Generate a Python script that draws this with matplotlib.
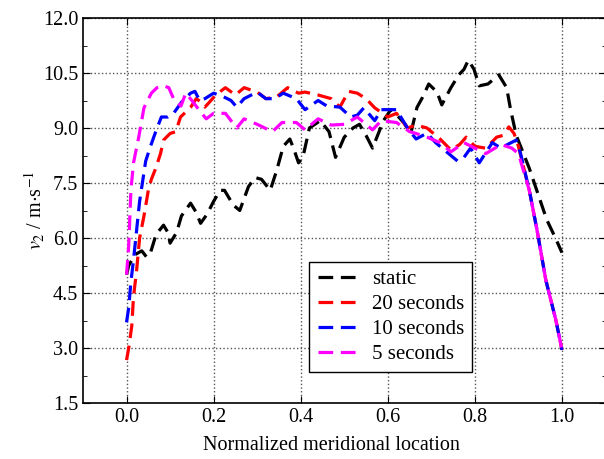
import matplotlib.pyplot as plt
import numpy as np
from matplotlib.ticker import MultipleLocator

plt.rcParams['font.family'] = 'Liberation Serif'
plt.rcParams['mathtext.fontset'] = 'stix'

# static
static_x = [0.0, 0.005, 0.02, 0.035, 0.046, 0.055, 0.068, 0.085, 0.095, 0.10, 0.115,
            0.126, 0.147, 0.16, 0.17, 0.185, 0.2, 0.215, 0.225, 0.245, 0.26, 0.28,
            0.295, 0.31, 0.33, 0.345, 0.36, 0.375, 0.385, 0.395, 0.405, 0.42, 0.445,
            0.465, 0.48, 0.50, 0.52, 0.535, 0.55, 0.565, 0.59, 0.607, 0.625, 0.64,
            0.653, 0.667, 0.68, 0.694, 0.713, 0.724, 0.745, 0.763, 0.775, 0.785,
            0.798, 0.81, 0.83, 0.855, 0.873, 0.882, 0.895, 0.905, 0.925, 0.945,
            0.965, 0.985, 1.0]
static_v = [5.0, 5.25, 5.55, 5.65, 5.48, 5.6, 6.1, 6.35, 6.15, 5.86, 6.15,
            6.6, 6.95, 6.7, 6.4, 6.65, 7.0, 7.3, 7.3, 6.9, 6.75, 7.4,
            7.65, 7.6, 7.3, 7.85, 8.5, 8.7, 8.4, 8.05, 8.2, 9.0, 9.2,
            8.9, 8.2, 8.75, 9.0, 9.1, 8.8, 8.45, 9.2, 9.5, 9.3, 9.1,
            8.86, 9.56, 9.84, 10.2, 9.98, 9.63, 10.1, 10.45, 10.6, 10.85,
            10.6, 10.15, 10.2, 10.45, 10.1, 9.5, 8.8, 8.5, 7.9, 7.2,
            6.5, 6.0, 5.6]

# 20 seconds
s20_x = [0.0, 0.005, 0.012, 0.016, 0.023, 0.03, 0.04, 0.05, 0.057, 0.067, 0.078,
         0.085, 0.1, 0.113, 0.124, 0.147, 0.16, 0.172, 0.18, 0.19, 0.205, 0.227,
         0.25, 0.27, 0.3, 0.32, 0.345, 0.37, 0.395, 0.41, 0.44, 0.47, 0.49, 0.51,
         0.53, 0.55, 0.57, 0.6, 0.62, 0.645, 0.665, 0.69, 0.72, 0.745, 0.765,
         0.78, 0.80, 0.825, 0.85, 0.865, 0.878, 0.89, 0.9, 0.925, 0.943, 0.963,
         0.986, 1.0]
s20_v = [2.67, 3.0, 3.6, 4.4, 5.1, 6.0, 6.6, 7.3, 7.6, 7.9, 8.3,
         8.67, 8.85, 8.9, 9.3, 9.56, 9.8, 9.7, 9.57, 9.7, 9.9, 10.1,
         9.9, 10.1, 9.98, 9.8, 9.85, 10.1, 9.95, 9.98, 9.9, 9.8, 9.57, 10.0,
         9.95, 9.8, 9.55, 9.3, 9.4, 9.0, 9.08, 9.0, 8.7, 8.4, 8.55,
         8.75, 8.5, 8.45, 8.75, 8.8, 9.03, 8.85, 8.5, 7.3, 6.2, 4.85,
         3.76, 2.95]

# 10 seconds
s10_x = [0.0, 0.005, 0.01, 0.016, 0.023, 0.03, 0.044, 0.055, 0.067, 0.08, 0.095,
         0.108, 0.126, 0.147, 0.157, 0.168, 0.18, 0.2, 0.223, 0.24, 0.253, 0.27,
         0.3, 0.32, 0.34, 0.36, 0.39, 0.41, 0.44, 0.46, 0.49, 0.515, 0.53, 0.545,
         0.57, 0.585, 0.62, 0.645, 0.665, 0.69, 0.71, 0.735, 0.76, 0.775, 0.79,
         0.81, 0.84, 0.86, 0.875, 0.895, 0.905, 0.925, 0.943, 0.963, 0.986, 1.0]
s10_v = [3.7, 4.1, 4.8, 5.4, 6.2, 7.0, 8.1, 8.5, 8.9, 9.3, 9.3,
         9.4, 9.7, 9.95, 10.0, 9.75, 9.8, 9.95, 9.85, 9.75, 9.57, 9.8,
         9.98, 9.8, 9.8, 9.95, 9.8, 9.5, 9.75, 9.6, 9.57, 9.3, 9.35, 9.55,
         9.2, 9.5, 9.5, 9.0, 8.7, 8.86, 8.6, 8.35, 8.1, 8.2, 8.45,
         8.05, 8.6, 8.45, 8.55, 8.67, 8.3, 7.3, 6.2, 4.85, 3.76, 2.95]

# 5 seconds
s5_x = [0.0, 0.005, 0.01, 0.016, 0.028, 0.04, 0.057, 0.07, 0.085, 0.097, 0.108,
        0.125, 0.136, 0.15, 0.17, 0.183, 0.2, 0.227, 0.253, 0.27, 0.3, 0.335,
        0.357, 0.39, 0.41, 0.44, 0.47, 0.5, 0.53, 0.565, 0.585, 0.62, 0.65,
        0.665, 0.69, 0.72, 0.745, 0.775, 0.8, 0.825, 0.86, 0.885, 0.9, 0.925,
        0.943, 0.963, 0.986, 1.0]
s5_v = [5.0, 5.8, 7.3, 8.05, 8.75, 9.55, 9.95, 10.1, 10.15, 10.1, 9.8,
        9.6, 9.95, 9.75, 9.44, 9.25, 9.4, 9.4, 9.0, 9.25, 9.1, 8.9,
        9.15, 9.15, 8.95, 9.25, 9.08, 9.1, 9.3, 8.95, 9.2, 9.15, 8.9,
        8.85, 8.75, 8.6, 8.35, 8.6, 8.45, 8.3, 8.55, 8.45, 8.3, 7.3,
        6.2, 4.85, 3.76, 2.95]

labels = ['static', '20 seconds', '10 seconds', '5 seconds']
colors = ['black', 'red', 'blue', 'magenta']

fig = plt.figure(figsize=(6.04, 4.59), dpi=100)
# right edge of the frame falls just outside the picture, as in the original
ax = fig.add_axes([83 / 604, 56 / 459, 522.5 / 604, 385 / 459])

series = [(static_x, static_v), (s20_x, s20_v), (s10_x, s10_v), (s5_x, s5_v)]
for (x, v), lab, c in zip(series, labels, colors):
    ax.plot(x, v, color=c, lw=2.3, linestyle=(0, (4.6, 2.4)), label=lab)

ax.set_xlim(-0.1, 1.1)
ax.set_ylim(1.5, 12.0)
ax.set_xticks([0.0, 0.2, 0.4, 0.6, 0.8, 1.0])
ax.yaxis.set_major_locator(MultipleLocator(1.5))
ax.yaxis.set_minor_locator(MultipleLocator(0.75))
ax.xaxis.set_major_formatter(plt.FormatStrFormatter('%.1f'))
ax.yaxis.set_major_formatter(plt.FormatStrFormatter('%.1f'))
ax.tick_params(which='both', direction='in', top=True, right=True, labelsize=14.5)
ax.tick_params(which='major', length=5)
ax.tick_params(which='minor', length=3)
ax.grid(True, which='major', color='#555555', linestyle=':', linewidth=1)
for s in ax.spines.values():
    s.set_linewidth(1.2)

ax.set_xlabel('Normalized meridional location', fontsize=14.5, labelpad=5)
ax.xaxis.set_label_coords(0.475, -0.085)
ax.set_ylabel(r'$\mathit{v}_2$ / m$\cdot$s$^{-1}$', fontsize=14.5, labelpad=-3)

ax.legend(loc='lower left', bbox_to_anchor=(0.433, 0.08), borderaxespad=0,
          fontsize=15, fancybox=False, edgecolor='black', framealpha=1,
          handlelength=2.0, handletextpad=0.6, labelspacing=0.25, borderpad=0.4)

plt.savefig('out.png', dpi=100)
